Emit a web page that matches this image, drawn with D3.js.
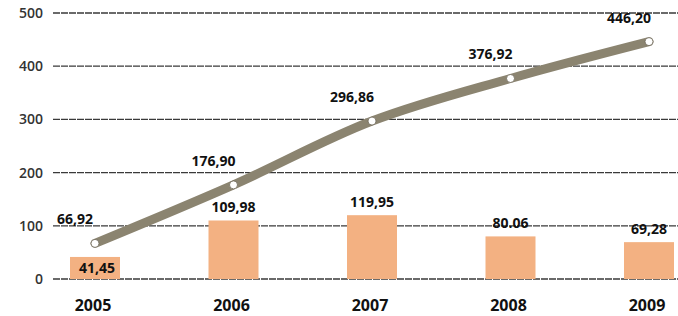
<!DOCTYPE html>
<html>
<head>
<meta charset="utf-8">
<script src="https://cdn.jsdelivr.net/npm/d3@7"></script>
<style>
  body { margin: 0; background: #fff; }
  svg { display: block; font-family: "Open Sans", sans-serif; }
</style>
</head>
<body>
<div id="graph"></div>
<script>
var years = ['2005', '2006', '2007', '2008', '2009'];
var lineValues = [66.92, 176.90, 296.86, 376.92, 446.20];
var lineLabels = ['66,92', '176,90', '296,86', '376,92', '446,20'];
var barValues = [41.45, 109.98, 119.95, 80.06, 69.28];
var barLabels = ['41,45', '109,98', '119,95', '80.06', '69,28'];
var yTicks = [0, 100, 200, 300, 400, 500];

var width = 678;
var height = 316;

var x = d3.scalePoint()
          .domain(years)
          .range([95, 649]);

var y = d3.scaleLinear()
          .domain([0, 500])
          .range([279, 13]);

var barW = 50;

var svg = d3.select('#graph')
            .append('svg')
            .attr('width', width)
            .attr('height', height);

// gridlines
svg.append('g')
   .selectAll('line')
   .data(yTicks)
   .enter()
   .append('line')
   .attr('x1', 53)
   .attr('x2', width)
   .attr('y1', d => y(d))
   .attr('y2', d => y(d))
   .attr('stroke', '#3a3a3a')
   .attr('stroke-width', 1.3)
   .attr('stroke-dasharray', '7,1');

// y axis labels
svg.append('g')
   .selectAll('text')
   .data(yTicks)
   .enter()
   .append('text')
   .attr('x', 43)
   .attr('y', d => y(d))
   .attr('dy', '0.35em')
   .attr('text-anchor', 'end')
   .attr('font-size', 14)
   .attr('font-weight', 600)
   .attr('fill', '#333')
   .text(d => d);

// bars
svg.append('g')
   .selectAll('rect')
   .data(barValues)
   .enter()
   .append('rect')
   .attr('x', (d, i) => x(years[i]) - barW / 2)
   .attr('y', d => y(d))
   .attr('width', barW)
   .attr('height', d => y(0) - y(d))
   .attr('fill', '#f3b182');

// bar labels (first one sits inside the bar)
svg.append('g')
   .selectAll('text')
   .data(barValues)
   .enter()
   .append('text')
   .attr('x', (d, i) => x(years[i]) + (i === 0 ? 2 : 0))
   .attr('y', (d, i) => i === 0 ? y(d) + 16 : y(d) - 8)
   .attr('text-anchor', 'middle')
   .attr('font-size', 14)
   .attr('font-weight', 700)
   .attr('fill', '#111')
   .text((d, i) => barLabels[i]);

// line
var line = d3.line()
             .x((d, i) => x(years[i]))
             .y(d => y(d))
             .curve(d3.curveCatmullRom.alpha(0.5));

svg.append('path')
   .datum(lineValues)
   .attr('d', line)
   .attr('fill', 'none')
   .attr('stroke', '#8b8470')
   .attr('stroke-width', 9)
   .attr('stroke-linecap', 'round');

svg.append('g')
   .selectAll('circle')
   .data(lineValues)
   .enter()
   .append('circle')
   .attr('cx', (d, i) => x(years[i]))
   .attr('cy', d => y(d))
   .attr('r', 4)
   .attr('fill', '#fff')
   .attr('stroke', '#6b6555')
   .attr('stroke-width', 0.8);

// line labels
svg.append('g')
   .selectAll('text')
   .data(lineValues)
   .enter()
   .append('text')
   .attr('x', (d, i) => x(years[i]) - 20)
   .attr('y', d => y(d) - 19)
   .attr('text-anchor', 'middle')
   .attr('font-size', 14)
   .attr('font-weight', 700)
   .attr('fill', '#111')
   .text((d, i) => lineLabels[i]);

// year labels
svg.append('g')
   .selectAll('text')
   .data(years)
   .enter()
   .append('text')
   .attr('x', d => x(d) - 2)
   .attr('y', 311)
   .attr('text-anchor', 'middle')
   .attr('font-size', 16)
   .attr('font-weight', 700)
   .attr('fill', '#111')
   .text(d => d);
</script>
</body>
</html>
